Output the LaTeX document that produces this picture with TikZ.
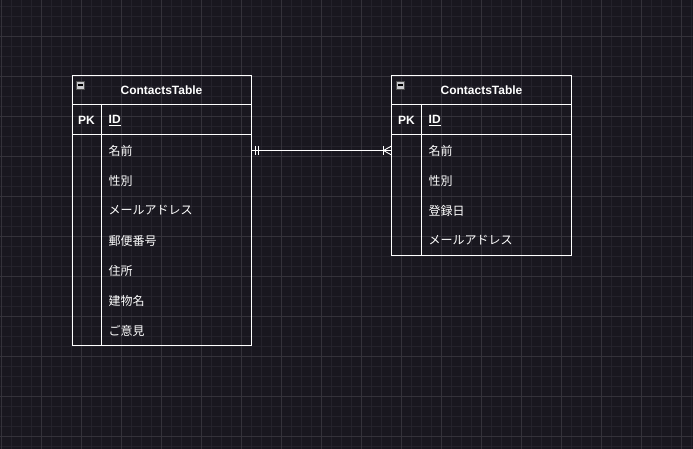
\documentclass[tikz,border=0pt]{standalone}
\usepackage{fontspec}
\setmainfont{Liberation Sans}
\newfontfamily\jp{Noto Sans CJK JP}
\usetikzlibrary{calc}
\definecolor{bgc}{RGB}{25,23,31}
\definecolor{minorc}{RGB}{36,34,43}
\definecolor{majorc}{RGB}{52,50,58}
\definecolor{iconc}{RGB}{200,200,204}
\begin{document}
\begin{tikzpicture}[x=1pt,y=-1pt,
  tbl/.style={draw=white,line width=1pt},
  rowbox/.style={draw=none,minimum width=179pt,minimum height=30pt,inner sep=0pt,outer sep=0pt},
  hdr/.style={text=white,font=\fontsize{12}{14}\selectfont\bfseries,inner sep=0pt},
  pk/.style={text=white,font=\fontsize{12}{14}\selectfont\bfseries,inner sep=0pt},
  fld/.style={text=white,font=\fontsize{12}{14}\selectfont\jp,inner sep=0pt,anchor=west},
  conn/.style={draw=white,line width=0.9pt}]
\useasboundingbox (0,0) rectangle (693,449);
\fill[bgc] (0,0) rectangle (693,449);
% minor grid
\foreach \x in {1,11,...,691} \draw[minorc,line width=0.8pt] (\x,0) -- (\x,449);
\foreach \y in {6,16,...,446} \draw[minorc,line width=0.8pt] (0,\y) -- (693,\y);
% major grid
\foreach \x in {1,41,...,681} \draw[majorc,line width=0.9pt] (\x,0) -- (\x,449);
\foreach \y in {36,76,...,436} \draw[majorc,line width=0.9pt] (0,\y) -- (693,\y);

% ---------- left table ----------
\draw[tbl] (72,75.5) rectangle (251.5,345);
\draw[tbl] (72,105) -- (251.5,105);
\draw[tbl] (72,135) -- (251.5,135);
\draw[tbl] (101.5,105) -- (101.5,345);
\node[hdr] (lh) at (161.5,90.5) {ContactsTable};
\fill[iconc] (76,81) rectangle (84,89);
\draw[black!70,line width=0.5pt] (76,81) rectangle (84,89);
\draw[black,line width=1.2pt] (77.5,85) -- (82.5,85);
\node[pk] (lpk) at (86.5,120.5) {PK};
\node[fld,font=\fontsize{12}{14}\selectfont\bfseries] (lid) at (108.5,120.5) {\underline{ID}};
\node[rowbox] (L1) at (161.75,150) {};
\node[fld] (l1) at (108.5,150.5) {名前};
\node[fld] (l2) at (108.5,180.5) {性別};
\node[fld] (l3) at (108.5,210.5) {メールアドレス};
\node[fld] (l4) at (108.5,240.5) {郵便番号};
\node[fld] (l5) at (108.5,270.5) {住所};
\node[fld] (l6) at (108.5,300.5) {建物名};
\node[fld] (l7) at (108.5,330.5) {ご意見};

% ---------- right table ----------
\draw[tbl] (391.5,75.5) rectangle (571.5,255);
\draw[tbl] (391.5,105) -- (571.5,105);
\draw[tbl] (391.5,135) -- (571.5,135);
\draw[tbl] (421.5,105) -- (421.5,255);
\node[hdr] (rh) at (481.5,90.5) {ContactsTable};
\fill[iconc] (396,81) rectangle (404,89);
\draw[black!70,line width=0.5pt] (396,81) rectangle (404,89);
\draw[black,line width=1.2pt] (397.5,85) -- (402.5,85);
\node[pk] (rpk) at (406.5,120.5) {PK};
\node[fld,font=\fontsize{12}{14}\selectfont\bfseries] (rid) at (428.5,120.5) {\underline{ID}};
\node[rowbox,minimum width=180pt] (R1) at (481.5,150) {};
\node[fld] (r1) at (428.5,150.5) {名前};
\node[fld] (r2) at (428.5,180.5) {性別};
\node[fld] (r3) at (428.5,210.5) {登録日};
\node[fld] (r4) at (428.5,240.5) {メールアドレス};

% ---------- connector ----------
\coordinate (ca) at ($(L1.east)+(0,0.5)$);
\coordinate (cb) at ($(R1.west)+(0,0.5)$);
\draw[conn] (ca) -- (cb);
% mandatory one (||)
\draw[conn] ($(ca)+(4.5,-4.5)$) -- ($(ca)+(4.5,4.5)$);
\draw[conn] ($(ca)+(7.5,-4.5)$) -- ($(ca)+(7.5,4.5)$);
% one or many (|<)
\draw[conn] ($(cb)+(-8,-4.5)$) -- ($(cb)+(-8,4.5)$);
\draw[conn] ($(cb)+(-8,0)$) -- ($(cb)+(0,-4.5)$);
\draw[conn] ($(cb)+(-8,0)$) -- ($(cb)+(0,4.5)$);
\end{tikzpicture}
\end{document}
